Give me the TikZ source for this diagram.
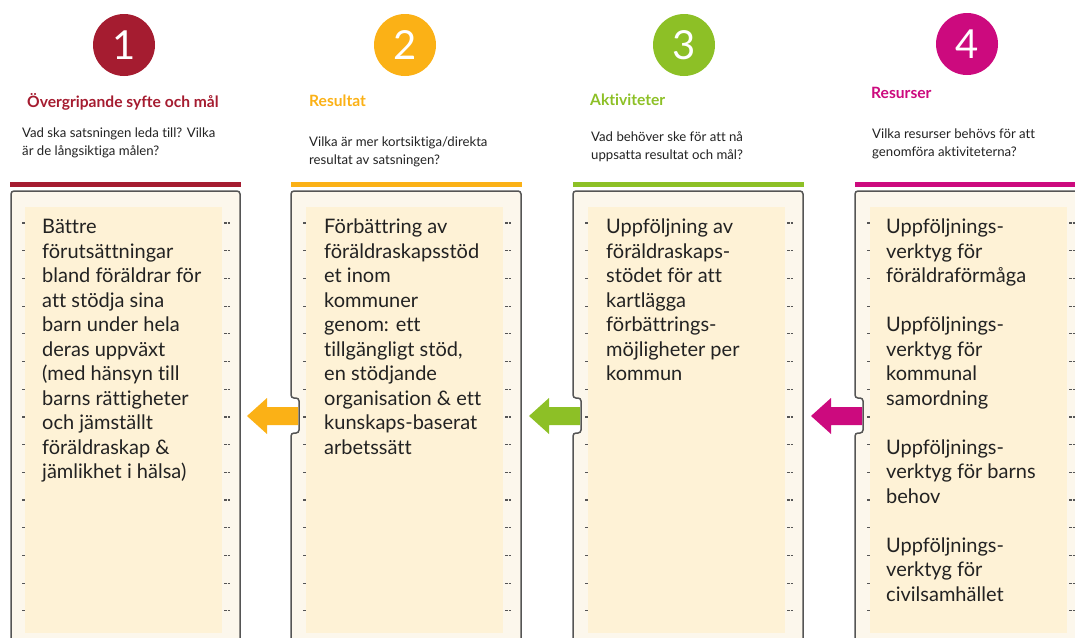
\documentclass[tikz,border=0pt]{standalone}
\usepackage{fontspec}
\setmainfont{Lato}[Ligatures=NoCommon]
\usetikzlibrary{calc}

\definecolor{rod}{HTML}{A51C30}
\definecolor{gul}{HTML}{FBB116}
\definecolor{gron}{HTML}{8DC026}
\definecolor{lila}{HTML}{CC0A7E}
\definecolor{ramfarg}{HTML}{FCF7EC}
\definecolor{lapp}{HTML}{FEF2D6}
\definecolor{kant}{HTML}{555555}
\definecolor{svart}{HTML}{222222}

\tikzset{
	nr/.style={circle,fill=#1,minimum size=62pt,inner sep=0pt,text=white,font=\fontsize{40}{40}\selectfont},
	rubrik/.style={anchor=west,inner sep=0pt,text=#1,font=\bfseries\fontsize{15.6}{17}\selectfont},
	fraga/.style={anchor=north west,inner sep=0pt,align=left,text=svart,font=\fontsize{13.2}{18}\selectfont},
	brod/.style={anchor=north west,inner sep=0pt,align=left,text=svart,font=\fontsize{20}{24.5}\selectfont},
	ram/.style={fill=ramfarg,draw=kant,line width=1.5pt,rounded corners=3pt},
	prick/.style={draw=kant,line width=1.2pt}
}

\begin{document}
\begin{tikzpicture}[x=1pt,y=-1pt]
		\useasboundingbox (0,0) rectangle (1075,637);
		\clip (0,0) rectangle (1075,637);
		\node[nr=rod] (nr1) at (124,45) {1}; %cirkel
		\node[nr=gul] (nr2) at (405,45) {2};
		\node[nr=gron] (nr3) at (684,45) {3};
		\node[nr=lila] (nr4) at (967,44) {4};
		\node[rubrik=rod] (rubrik1) at (27,102) {Övergripande syfte och mål};
		\node[rubrik=gul] (rubrik2) at (309,101) {Resultat};
		\node[rubrik=gron] (rubrik3) at (590,100) {Aktiviteter};
		\node[rubrik=lila] (rubrik4) at (871,93) {Resurser};
		\node[fraga] (fraga1) at (22,128) {Vad ska satsningen leda till? Vilka\\är de långsiktiga målen?};
		\node[fraga] (fraga2) at (309,137) {Vilka är mer kortsiktiga/direkta\\resultat av satsningen?};
		\node[fraga] (fraga3) at (591,131) {Vad behöver ske för att nå\\uppsatta resultat och mål?};
		\node[fraga] (fraga4) at (872,129) {Vilka resurser behövs för att\\genomföra aktiviteterna?};
		\foreach \ox/\f in {10/rod,291/gul,573/gron,855/lila}
			\fill[\f] (\ox,182) rectangle ++(231,5); %färgrand
		\filldraw[ram] (11,191) rectangle (240,660); %ram
		\foreach \ox in {291,573,855}
			\filldraw[ram] (\ox,191) -- ({\ox+230},191) -- ({\ox+230},660) -- (\ox,660) -- (\ox,433) -- ({\ox+8},433) -- ({\ox+8},398) -- (\ox,398) -- cycle;
		\foreach \ox in {10,291,573,855}{
			\fill[lapp] ({\ox+15},207) rectangle ({\ox+212},633); %lapp
			\foreach \k in {0,...,14}{
				\draw[prick] ({\ox+12},{223+27.7*\k}) -- ++(2.5,0);
				\draw[prick,dash pattern=on 2.5pt off 1pt] ({\ox+214},{223+27.7*\k}) -- ++(6,0);
			}
		}
		\foreach \ox/\f/\i in {291/gul/2,573/gron/3,855/lila/4}{
			\coordinate (in\i) at ({\ox+7},416); %pil
			\fill[\f] ($(in\i)+(0,-9)$) -- ($(in\i)+(-31,-9)$) -- ($(in\i)+(-31,-18)$) -- ($(in\i)+(-51,0)$) -- ($(in\i)+(-31,18)$) -- ($(in\i)+(-31,9)$) -- ($(in\i)+(0,9)$) -- cycle;
		}
		\node[brod] (text1) at (42,219) {Bättre\\förutsättningar\\bland föräldrar för\\att stödja sina\\barn under hela\\deras uppväxt\\(med hänsyn till\\barns rättigheter\\och jämställt\\föräldraskap \&\\jämlikhet i hälsa)};
		\node[brod] (text2) at (324,219) {Förbättring av\\föräldraskapsstöd\\et inom\\kommuner\\genom: ett\\tillgängligt stöd,\\en stödjande\\organisation \& ett\\kunskaps-baserat\\arbetssätt};
		\node[brod] (text3) at (606,219) {Uppföljning av\\föräldraskaps-\\stödet för att\\kartlägga\\förbättrings-\\möjligheter per\\kommun};
		\node[brod] (text4) at (886,219) {Uppföljnings-\\verktyg för\\föräldraförmåga\\[24.5pt]Uppföljnings-\\verktyg för\\kommunal\\samordning\\[24.5pt]Uppföljnings-\\verktyg för barns\\behov\\[24.5pt]Uppföljnings-\\verktyg för\\civilsamhället};
	\end{tikzpicture}
\end{document}
